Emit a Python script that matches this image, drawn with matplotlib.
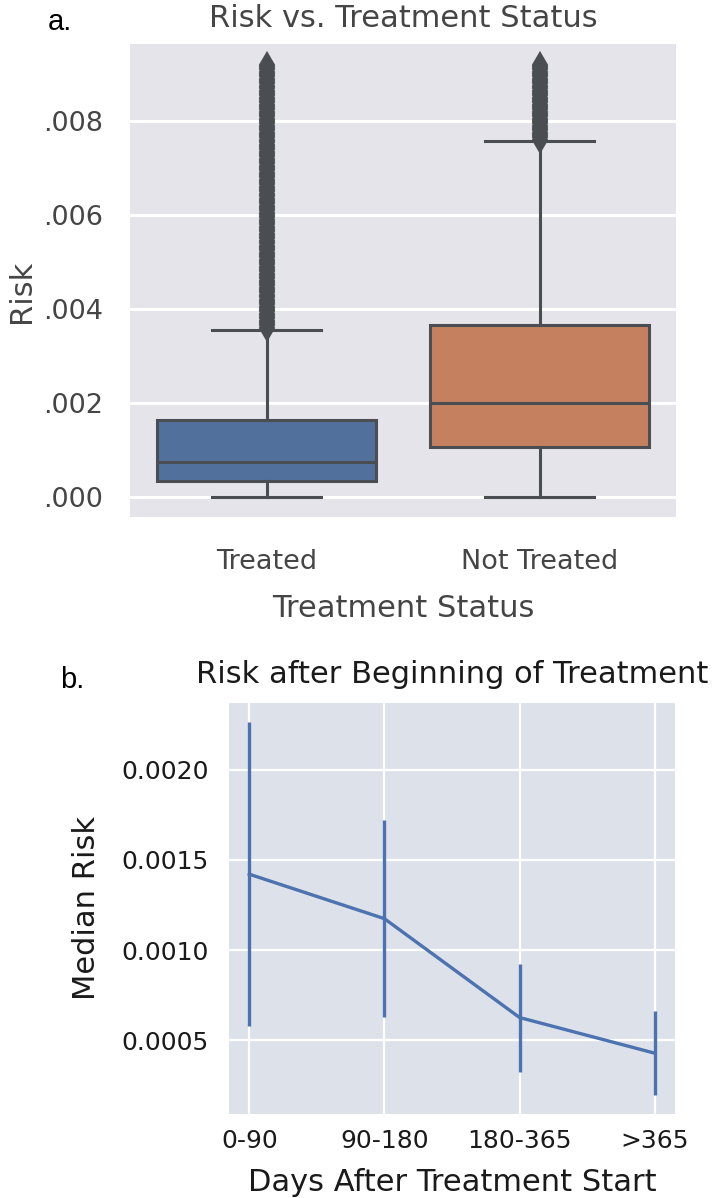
import matplotlib.pyplot as plt
from matplotlib.ticker import FuncFormatter, FormatStrFormatter

# panel a: box plot summaries
status = ['Treated', 'Not Treated']
q1 = [0.00033, 0.00106]
medians = [0.00075, 0.00200]
q3 = [0.00163, 0.00366]
whisker_lo = [0.0, 0.0]
whisker_hi = [0.00355, 0.00758]
# outliers form a solid column above the upper whisker
treated_fliers = [0.00360, 0.00365, 0.00370, 0.00375, 0.00380, 0.00385, 0.00390, 0.00395,
                  0.00400, 0.00405, 0.00410, 0.00415, 0.00420, 0.00425, 0.00430, 0.00435,
                  0.00440, 0.00445, 0.00450, 0.00455, 0.00460, 0.00465, 0.00470, 0.00475,
                  0.00480, 0.00485, 0.00490, 0.00495, 0.00500, 0.00505, 0.00510, 0.00515,
                  0.00520, 0.00525, 0.00530, 0.00535, 0.00540, 0.00545, 0.00550, 0.00555,
                  0.00560, 0.00565, 0.00570, 0.00575, 0.00580, 0.00585, 0.00590, 0.00595,
                  0.00600, 0.00605, 0.00610, 0.00615, 0.00620, 0.00625, 0.00630, 0.00635,
                  0.00640, 0.00645, 0.00650, 0.00655, 0.00660, 0.00665, 0.00670, 0.00675,
                  0.00680, 0.00685, 0.00690, 0.00695, 0.00700, 0.00705, 0.00710, 0.00715,
                  0.00720, 0.00725, 0.00730, 0.00735, 0.00740, 0.00745, 0.00750, 0.00755,
                  0.00760, 0.00765, 0.00770, 0.00775, 0.00780, 0.00785, 0.00790, 0.00795,
                  0.00800, 0.00805, 0.00810, 0.00815, 0.00820, 0.00825, 0.00830, 0.00835,
                  0.00840, 0.00845, 0.00850, 0.00855, 0.00860, 0.00865, 0.00870, 0.00875,
                  0.00880, 0.00885, 0.00890, 0.00895, 0.00900, 0.00905, 0.00910, 0.00915,
                  0.00920]
not_treated_fliers = [0.00760, 0.00765, 0.00770, 0.00775, 0.00780, 0.00785, 0.00790,
                      0.00795, 0.00800, 0.00805, 0.00810, 0.00815, 0.00820, 0.00825,
                      0.00830, 0.00835, 0.00840, 0.00845, 0.00850, 0.00855, 0.00860,
                      0.00865, 0.00870, 0.00875, 0.00880, 0.00885, 0.00890, 0.00895,
                      0.00900, 0.00905, 0.00910, 0.00915, 0.00920]
risk_ticks = [0.0, 0.002, 0.004, 0.006, 0.008]

# panel b: median risk with interval by time since treatment start
periods = ['0-90', '90-180', '180-365', '>365']
median_risk = [0.001421, 0.001174, 0.000625, 0.000427]
ci_lo = [0.000580, 0.000630, 0.000320, 0.000193]
ci_hi = [0.002268, 0.001720, 0.000920, 0.000664]
median_ticks = [0.0005, 0.0010, 0.0015, 0.0020]

box_colors = ['#52709c', '#c5815f']
line_c = '#4a4d51'
top_text = '#454545'
bot_text = '#1a1a1a'

fig = plt.figure(figsize=(7.12, 11.98), dpi=100)
ax1 = fig.add_axes([130/712, 1-517/1198, 546/712, 473/1198])
ax2 = fig.add_axes([229/712, 1-1114/1198, 446/712, 411/1198])

# --- a. box plot
stats = []
for i in range(len(status)):
    stats.append(dict(label=status[i], q1=q1[i], med=medians[i], q3=q3[i],
                      whislo=whisker_lo[i], whishi=whisker_hi[i],
                      fliers=[treated_fliers, not_treated_fliers][i]))
bp = ax1.bxp(stats, positions=range(len(status)), widths=0.8, patch_artist=True,
             boxprops=dict(edgecolor=line_c, linewidth=2.2),
             whiskerprops=dict(color=line_c, linewidth=2.2),
             capprops=dict(color=line_c, linewidth=2.2),
             medianprops=dict(color=line_c, linewidth=2.2),
             flierprops=dict(marker='d', markersize=12.2, markerfacecolor=line_c,
                             markeredgecolor=line_c, markeredgewidth=1.5,
                             linestyle='none'))
for patch, c in zip(bp['boxes'], box_colors):
    patch.set_facecolor(c)

ax1.set_facecolor('#e4e4ea')
ax1.set_axisbelow(True)
ax1.yaxis.grid(True, color='white', linewidth=2.2)
ax1.xaxis.grid(False)
ax1.set_xlim(-0.5, 1.5)
ax1.set_ylim(-0.00043, 0.00964)
ax1.set_xticks(range(len(status)))
ax1.set_xticklabels(status)
ax1.set_yticks(risk_ticks)
ax1.yaxis.set_major_formatter(FuncFormatter(lambda v, p: f'{v:.3f}'.lstrip('0')))
ax1.tick_params(axis='y', length=0, labelsize=19.5, pad=19.5, labelcolor=top_text)
ax1.tick_params(axis='x', length=0, labelsize=19.5, pad=23, labelcolor=top_text)
ax1.set_title('Risk vs. Treatment Status', fontsize=22, pad=12, color=top_text)
ax1.set_xlabel('Treatment Status', fontsize=22, labelpad=14, color=top_text)
ax1.set_ylabel('Risk', fontsize=22, color=top_text)
ax1.yaxis.set_label_coords(-0.172, 0.478)

# --- b. line with error bars
x = range(len(periods))
ax2.vlines(x, ci_lo, ci_hi, color='#4c72b0', linewidth=2.4)
ax2.plot(x, median_risk, color='#4c72b0', linewidth=2.4)
ax2.set_facecolor('#dde1ea')
ax2.set_axisbelow(True)
ax2.grid(True, color='white', linewidth=1.6)
ax2.set_xticks(list(x))
ax2.set_xticklabels(periods)
ax2.set_yticks(median_ticks)
ax2.yaxis.set_major_formatter(FormatStrFormatter('%.4f'))
ax2.tick_params(axis='y', length=0, labelsize=18, pad=14.5, labelcolor=bot_text)
ax2.tick_params(axis='x', length=0, labelsize=18, pad=10.5, labelcolor=bot_text)
ax2.set_title('Risk after Beginning of Treatment', fontsize=22, pad=14.5, color=bot_text)
ax2.set_xlabel('Days After Treatment Start', fontsize=22, labelpad=11, color=bot_text)
ax2.set_ylabel('Median Risk', fontsize=22, labelpad=15, color=bot_text)

for ax in (ax1, ax2):
    for sp in ax.spines.values():
        sp.set_visible(False)

fig.text(48/712, 1-30/1198, 'a.', family='Liberation Sans', fontsize=21, va='baseline')
fig.text(60/712, 1-688/1198, 'b.', family='Liberation Sans', fontsize=21, va='baseline')

fig.savefig('out.png', dpi=100)
